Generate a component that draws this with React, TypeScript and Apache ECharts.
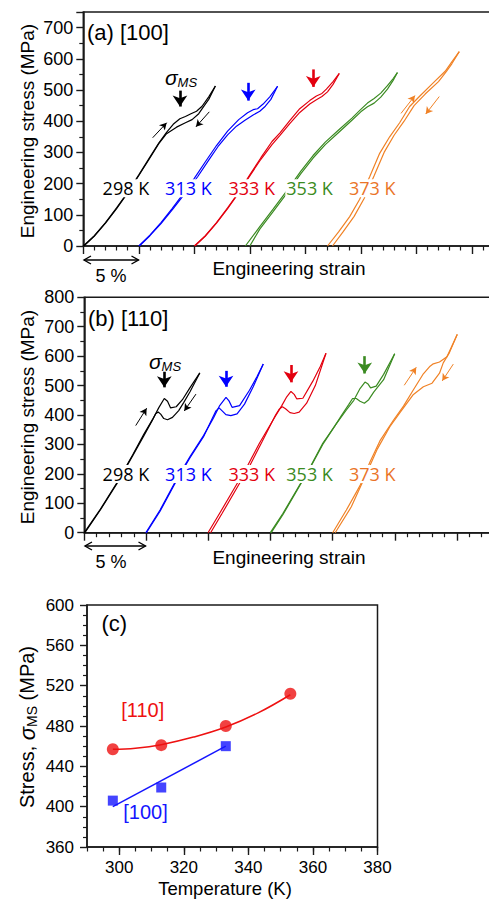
import React, { useEffect, useRef } from 'react';
import * as echarts from 'echarts';

// ---------- Panel (a) [100]: engineering strain (%) vs stress (MPa) ----------
const a298Load = [[0,0],[1.0,33],[2.0,75],[3.0,122],[4.0,172],[5.0,228],[6.0,285],[6.8,330],[7.5,364],[8.1,390],[8.7,408],[9.2,415],[9.7,424],[10.2,432],[10.7,448],[11.3,478],[11.9,513]];
const a298Unload = [[11.9,513],[11.3,470],[10.9,450],[10.4,424],[9.8,405],[9.2,395],[8.4,381],[7.5,360],[6.8,328],[6.0,282],[5.0,226],[4.0,170],[3.0,120],[2.0,73],[1.0,32],[0.05,0]];
const a313Load = [[5.0,0],[6.0,35],[7.0,75],[8.0,120],[9.0,167],[10.0,217],[11.0,270],[12.0,322],[13.0,368],[14.0,405],[14.8,427],[15.3,437],[15.7,440],[16.2,455],[16.8,478],[17.5,512]];
const a313Unload = [[17.5,512],[16.9,470],[16.4,448],[15.9,432],[15.3,420],[14.6,404],[13.8,384],[13.0,356],[12.2,322],[11.3,275],[10.3,222],[9.2,170],[8.1,120],[7.0,72],[6.0,33],[5.05,0]];
const a333Load = [[10.0,0],[11.0,33],[12.0,75],[13.0,122],[14.0,172],[15.0,228],[16.0,283],[17.0,335],[17.7,362],[18.6,402],[19.5,440],[20.4,466],[21.0,481],[21.5,489],[21.9,503],[22.5,527],[23.06,553]];
const a333Unload = [[23.06,553],[22.5,518],[22.0,494],[21.5,479],[21.0,469],[20.4,455],[19.5,428],[18.6,392],[17.7,354],[17.0,325],[16.0,278],[15.0,225],[14.0,170],[13.0,120],[12.0,73],[11.0,32],[10.05,0]];
const a353Load = [[14.6,0],[15.9,62],[17.1,118],[18.4,180],[19.6,240],[20.7,290],[21.8,333],[23.0,372],[24.2,410],[25.0,438],[25.6,458],[26.2,473],[26.8,490],[27.4,514],[27.9,536],[28.3,556]];
const a353Unload = [[28.3,556],[27.9,530],[27.4,503],[26.8,477],[26.2,458],[25.6,446],[25.0,430],[24.2,403],[23.0,364],[21.8,325],[20.7,282],[19.6,232],[18.4,172],[17.1,110],[15.9,54],[15.0,0]];
const a373Load = [[22.0,0],[23.0,45],[24.0,94],[24.9,150],[25.8,222],[26.7,297],[27.6,350],[28.5,395],[29.4,447],[30.3,480],[31.5,522],[32.6,560],[33.2,590],[33.87,623]];
const a373Unload = [[33.87,623],[33.2,584],[32.7,559],[32.0,527],[30.8,487],[29.8,450],[28.9,400],[28.0,355],[27.1,300],[26.2,225],[25.3,152],[24.4,95],[23.4,45],[22.45,0]];

// ---------- Panel (b) [110] ----------
const b298Load = [[0,0],[1.3,80],[2.6,168],[3.9,265],[4.8,335],[5.5,385],[6.0,425],[6.44,456],[6.7,447],[6.95,424],[7.4,428],[7.9,452],[8.5,492],[9.3,543]];
const b298Unload = [[9.3,543],[8.5,478],[8.0,442],[7.6,415],[7.1,392],[6.7,384],[6.4,388],[6.15,403],[5.95,410],[5.75,404],[5.45,380],[4.8,330],[3.9,262],[2.6,165],[1.3,78],[0.05,0]];
const b313Load = [[4.95,0],[6.1,77],[7.4,179],[8.5,258],[9.6,330],[10.4,390],[10.9,432],[11.41,460],[11.65,448],[11.9,426],[12.5,432],[13.3,484],[13.9,530],[14.41,573]];
const b313Unload = [[14.41,573],[13.6,496],[12.9,437],[12.3,404],[11.8,398],[11.4,401],[11.1,414],[10.85,424],[10.6,414],[10.3,388],[9.6,326],[8.5,254],[7.4,175],[6.1,73],[5.0,0]];
const b333Load = [[9.96,0],[10.9,66],[12.0,145],[13.1,224],[14.1,304],[15.2,383],[15.9,432],[16.3,462],[16.64,480],[16.9,470],[17.1,455],[17.6,457],[18.4,515],[19.0,565],[19.46,610]];
const b333Unload = [[19.46,610],[18.6,500],[17.9,440],[17.3,410],[16.9,405],[16.56,408],[16.2,421],[15.95,428],[15.7,420],[15.4,400],[14.3,308],[13.3,226],[12.2,146],[11.1,66],[10.17,0]];
const b353Load = [[14.98,0],[16.0,66],[17.1,145],[18.2,224],[19.2,304],[20.3,371],[21.1,417],[21.7,450],[22.2,490],[22.6,512],[22.85,505],[23.05,492],[23.5,498],[24.1,538],[24.99,608]];
const b353Unload = [[24.99,608],[24.1,520],[23.3,478],[22.9,452],[22.55,440],[22.2,447],[21.9,456],[21.6,456],[21.3,436],[20.7,398],[20.1,358],[19.2,300],[18.2,222],[17.1,142],[16.0,62],[15.05,0]];
const b373Load = [[20.0,0],[21.1,77],[22.2,160],[23.0,240],[23.8,312],[24.9,383],[25.7,430],[26.5,486],[27.3,540],[27.84,566],[28.1,574],[28.6,580],[29.2,598],[30.03,674]];
const b373Unload = [[30.03,674],[29.4,612],[28.9,577],[28.6,542],[28.0,508],[27.3,496],[26.5,470],[25.4,407],[24.6,360],[23.6,285],[22.6,190],[21.5,88],[20.2,0]];

// sigma_MS arrows [x, yStart, x, yEnd] and small loading/unloading arrows [x1,y1,x2,y2,colorIndex]
const sigmaArrowsA = [[8.71,498,8.71,447],[14.86,523,14.86,466],[20.72,566,20.72,510]];
const sigmaArrowsB = [[6.44,547,6.44,494],[11.41,550,11.41,496],[16.64,570,16.64,511],[22.58,600,22.58,541]];
const smallArrowsA = [[6.25,347,7.51,395,0],[11.35,430,10.15,382,0],[28.62,425,29.88,482,4],[32.07,479,30.85,423,4]];
const smallArrowsB = [[4.14,364,5.02,423,0],[8.99,471,8.05,414,0],[25.76,501,26.73,562,4],[29.71,573,28.82,516,4]];

// ---------- Panel (c) ----------
const temps110 = [298, 313, 333, 353];
const sigma110 = [457, 461, 480, 512];
const temps100 = [298, 313, 333];
const sigma100 = [406, 419, 460];
const fit110 = [[298,457],[305,458],[313,461.5],[323,469],[333,479],[343,493],[353,511]];
const fit100 = [[298,400],[333,460]];

const tempLabels = ['298 K', '313 K', '333 K', '353 K', '373 K'];
const tempColors = ['#000000', '#0000ff', '#e3000f', '#3b8b22', '#f08226'];
const labelColors = ['#000000', '#0000ff', '#e3000f', '#3b8b22', '#ea7428'];
const cTicksMajor = [300, 320, 340, 360, 380];

const F = 'Liberation Sans, Arial, Helvetica, sans-serif';
const FT = "'Open Sans', 'Noto Sans', sans-serif";
const AX = '#1a1a1a';

const panelA = [[a298Load, a298Unload], [a313Load, a313Unload], [a333Load, a333Unload], [a353Load, a353Unload], [a373Load, a373Unload]];
const panelB = [[b298Load, b298Unload], [b313Load, b313Unload], [b333Load, b333Unload], [b353Load, b353Unload], [b373Load, b373Unload]];

function arrowMark(list: number[][], color: string, width: number, size: number[]) {
  return {
    silent: true,
    symbol: ['none', 'arrow'],
    symbolSize: size,
    label: { show: false },
    emphasis: { disabled: true },
    itemStyle: { color },
    lineStyle: { color, width, type: 'solid' },
    data: list.map((a) => [{ coord: [a[0], a[1]] }, { coord: [a[2], a[3]] }]),
  };
}

function buildCurves(panel: number[][][][], gi: number, sigma: number[][], small: number[][]) {
  const out: any[] = [];
  panel.forEach((pair, i) => {
    const color = tempColors[i];
    const base = {
      type: 'line', xAxisIndex: gi, yAxisIndex: gi, showSymbol: false, symbol: 'none',
      lineStyle: { color, width: 1.2 }, itemStyle: { color }, silent: true, z: 3,
    };
    const load: any = { ...base, data: pair[0] };
    if (sigma[i]) load.markLine = arrowMark([sigma[i]], color, 2.6, [11, 11]);
    const unload: any = { ...base, data: pair[1] };
    const sm = small.filter((s) => s[4] === i);
    if (sm.length) unload.markLine = arrowMark(sm, color, 1, [6, 7]);
    out.push(load, unload);
  });
  return out;
}

function txt(x: number, y: number, text: string, font: string, fill = '#000', align = 'center', extra: any = {}) {
  return { type: 'text', x, y, z: 100, style: { text, font, fill, textAlign: align, textVerticalAlign: 'middle', ...extra } };
}

function dblArrow(x1: number, x2: number, y: number) {
  const st = { stroke: '#000', lineWidth: 1.4, fill: 'none' };
  return [
    { type: 'line', z: 100, shape: { x1, y1: y, x2, y2: y }, style: st },
    { type: 'polyline', z: 100, shape: { points: [[x1 + 7, y - 4], [x1, y], [x1 + 7, y + 4]] }, style: st },
    { type: 'polyline', z: 100, shape: { points: [[x2 - 7, y - 4], [x2, y], [x2 - 7, y + 4]] }, style: st },
  ];
}

function sigmaLabel(x: number, y: number) {
  return {
    type: 'text', x, y, z: 100,
    style: {
      text: '{s|σ}{m|MS}', textAlign: 'center', textVerticalAlign: 'middle',
      rich: {
        s: { fontSize: 21, fontStyle: 'italic', fontFamily: F, fill: '#000', lineHeight: 24 },
        m: { fontSize: 13, fontStyle: 'italic', fontFamily: F, fill: '#000', lineHeight: 12, verticalAlign: 'bottom' },
      },
    },
  };
}

function strainAxes(gi: number) {
  return {
    type: 'value', gridIndex: gi, min: 0, max: 40, interval: 5, position: 'bottom',
    axisLine: { show: true, onZero: false, lineStyle: { color: AX, width: 1.5 } },
    axisTick: { show: true, length: 8, lineStyle: { color: AX, width: 1.4 } },
    minorTick: { show: true, splitNumber: 5, length: 4.5, lineStyle: { color: AX, width: 1.2 } },
    axisLabel: { show: false }, splitLine: { show: false }, minorSplitLine: { show: false },
  };
}

function stressAxis(gi: number, max: number) {
  return {
    type: 'value', gridIndex: gi, min: 0, max, interval: 100,
    axisLine: { show: true, onZero: false, lineStyle: { color: AX, width: 1.5 } },
    axisTick: { show: true, length: 7, lineStyle: { color: AX, width: 1.4 } },
    minorTick: { show: true, splitNumber: 2, length: 4, lineStyle: { color: AX, width: 1.2 } },
    axisLabel: { fontSize: 18, fontFamily: F, color: '#000', margin: 10, formatter: (v: number) => (v % 100 === 0 ? String(v) : '') },
    splitLine: { show: false },
  };
}

const tempX = [125.9, 188.4, 251.8, 309.6, 372.3];
const gridBase = { show: true, borderColor: AX, borderWidth: 1.5, backgroundColor: 'transparent', containLabel: false, outerBoundsMode: 'none' };

const option: any = {
  animation: false,
  backgroundColor: '#fff',
  grid: [
    { ...gridBase, left: 83.3, top: 12, width: 444, height: 234 },
    { ...gridBase, left: 84.3, top: 297.3, width: 496.8, height: 235.4 },
    { ...gridBase, left: 87, top: 605, width: 290.5, height: 242 },
  ],
  xAxis: [
    strainAxes(0),
    strainAxes(1),
    {
      type: 'value', gridIndex: 2, min: 290, max: 380, interval: 5, position: 'bottom',
      axisLine: { show: true, onZero: false, lineStyle: { color: AX, width: 1.5 } },
      axisTick: { show: true, length: 4.5, lineStyle: { color: AX, width: 1.2 } },
      axisLabel: { fontSize: 17, fontFamily: F, color: '#000', margin: 12, formatter: (v: number) => (v % 20 === 0 && v >= 300 ? String(v) : '') },
      splitLine: { show: false },
    },
    {
      type: 'value', gridIndex: 2, min: 290, max: 380, position: 'bottom',
      axisLine: { show: false },
      axisTick: { show: true, length: 8, customValues: cTicksMajor, lineStyle: { color: AX, width: 1.4 } },
      axisLabel: { show: false },
      splitLine: { show: false },
    },
  ],
  yAxis: [
    stressAxis(0, 750),
    stressAxis(1, 800),
    {
      type: 'value', gridIndex: 2, min: 360, max: 600, interval: 40,
      axisLine: { show: true, onZero: false, lineStyle: { color: AX, width: 1.5 } },
      axisTick: { show: true, length: 7, lineStyle: { color: AX, width: 1.4 } },
      minorTick: { show: true, splitNumber: 4, length: 4, lineStyle: { color: AX, width: 1.2 } },
      axisLabel: { fontSize: 17, fontFamily: F, color: '#000', margin: 13 },
      splitLine: { show: false },
    },
  ],
  series: [
    ...buildCurves(panelA, 0, sigmaArrowsA, smallArrowsA),
    ...buildCurves(panelB, 1, sigmaArrowsB, smallArrowsB),
    { type: 'line', xAxisIndex: 2, yAxisIndex: 2, data: fit110, smooth: 0.4, showSymbol: false, symbol: 'none', lineStyle: { color: '#ee1111', width: 1.5 }, silent: true },
    { type: 'line', xAxisIndex: 2, yAxisIndex: 2, data: fit100, showSymbol: false, symbol: 'none', lineStyle: { color: '#1515ff', width: 1.5 }, silent: true },
    { type: 'scatter', xAxisIndex: 2, yAxisIndex: 2, data: temps110.map((t, i) => [t, sigma110[i]]), symbol: 'circle', symbolSize: 12, itemStyle: { color: '#ee1111' }, silent: true, z: 5 },
    { type: 'scatter', xAxisIndex: 2, yAxisIndex: 2, data: temps100.map((t, i) => [t, sigma100[i]]), symbol: 'rect', symbolSize: 10, itemStyle: { color: '#1515ff' }, silent: true, z: 5 },
  ],
  graphic: [
    txt(87, 32, '(a) [100]', `22px ${F}`, '#000', 'left'),
    txt(88, 318, '(b) [110]', `22px ${F}`, '#000', 'left'),
    txt(101.5, 623, '(c)', `22px ${F}`, '#000', 'left'),
    { ...txt(27, 131, 'Engineering stress (MPa)', `19px ${F}`), rotation: Math.PI / 2 },
    { ...txt(27.5, 417, 'Engineering stress (MPa)', `19px ${F}`), rotation: Math.PI / 2 },
    txt(289, 268, 'Engineering strain', `19px ${F}`),
    txt(289, 557, 'Engineering strain', `19px ${F}`),
    txt(111, 275.5, '5 %', `18px ${F}`),
    txt(111, 562, '5 %', `18px ${F}`),
    ...dblArrow(84, 138.5, 260),
    ...dblArrow(85, 145.5, 546),
    ...tempLabels.map((t, i) => txt(tempX[i], 188.3, t, `18px ${FT}`, labelColors[i], 'center', { backgroundColor: '#fff', padding: [0, 1] })),
    ...tempLabels.map((t, i) => txt(tempX[i], 474, t, `18px ${FT}`, labelColors[i], 'center', { backgroundColor: '#fff', padding: [0, 1] })),
    sigmaLabel(181, 77),
    sigmaLabel(165, 361),
    txt(225, 888, 'Temperature (K)', `18.5px ${F}`),
    {
      type: 'text', x: 27, y: 727, z: 100, rotation: Math.PI / 2,
      style: {
        text: '{a|Stress, }{s|σ}{m|MS}{a| (MPa)}', textAlign: 'center', textVerticalAlign: 'middle',
        rich: {
          a: { fontSize: 20, fontFamily: F, fill: '#000', lineHeight: 24 },
          s: { fontSize: 22, fontStyle: 'italic', fontFamily: F, fill: '#000', lineHeight: 24 },
          m: { fontSize: 14, fontFamily: F, fill: '#000', lineHeight: 12, verticalAlign: 'bottom' },
        },
      },
    },
    txt(142.7, 710, '[110]', `20px ${F}`, '#ee1111'),
    txt(145.5, 811.7, '[100]', `20px ${F}`, '#1515ff'),
  ],
};

export default function App() {
  const ref = useRef<HTMLDivElement>(null);
  useEffect(() => {
    const chart = echarts.init(ref.current as HTMLDivElement, null, { renderer: 'svg' });
    chart.setOption(option);
    return () => chart.dispose();
  }, []);
  return <div ref={ref} style={{ position: 'absolute', left: 0, top: 0, width: 489, height: 899, background: '#fff' }} />;
}
